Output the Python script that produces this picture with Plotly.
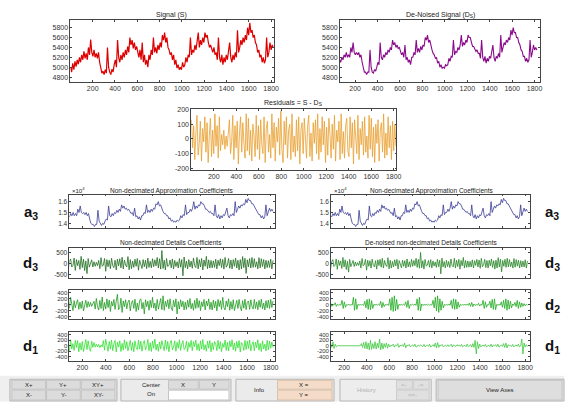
import plotly.graph_objects as go

W, H = 569, 403
X_END = 1820

signal_S = [5000, 4900, 5080, 4950, 5120, 5010, 5150, 5060, 5200, 5100,
            5250, 5150, 5320, 5180, 5280, 5150, 5400, 5250, 5560, 5300,
            5220, 5350, 5200, 5280, 5180, 5300, 5100, 4950, 4880, 4920,
            4850, 4950, 4880, 5400, 5000, 4900, 4850, 4960, 4900, 5050,
            5150, 5000, 5550, 5200, 5100, 5250, 5150, 5300, 5200, 5350,
            5250, 5420, 5300, 5600, 5450, 5550, 5380, 5500, 5350, 5420,
            5300, 5200, 5350, 5150, 5500, 5100, 5250, 5050, 5150, 5000,
            5250, 5150, 5350, 5250, 5600, 5300, 5400, 5280, 5450, 5350,
            5500, 5400, 5650, 5550, 5700, 5500, 5600, 5400, 5350, 5250,
            5300, 5150, 5250, 5050, 5150, 4980, 5050, 4950, 5000, 4950,
            5100, 5000, 5050, 5200, 5100, 5250, 5200, 5600, 5250, 5350,
            5300, 5450, 5350, 5500, 5700, 5400, 5550, 5450, 5600, 5500,
            5700, 5600, 5650, 5500, 5400, 5450, 5350, 5300, 5400, 5250,
            5300, 5150, 5600, 5200, 5100, 5250, 5050, 5200, 5100, 5250,
            5150, 5350, 5500, 5200, 5100, 5250, 5150, 5300, 5200, 5750,
            5300, 5400, 5550, 5450, 5600, 5500, 5650, 5550, 5800, 5650,
            5900, 5700, 5750, 5600, 5650, 5500, 5450, 5300, 5350, 5200,
            5250, 5100, 5200, 5080, 5150, 5600, 5200, 5300, 5500, 5350,
            5450, 5400]

denoised_D = [4950, 4900, 5050, 5000, 5100, 5050, 5150, 5100, 5200, 5150,
              5250, 5200, 5300, 5200, 5250, 5200, 5400, 5300, 5500, 5300,
              5250, 5300, 5250, 5300, 5200, 5250, 5100, 4950, 4900, 4900,
              4850, 4900, 4900, 5350, 5000, 4900, 4880, 4950, 4920, 5000,
              5100, 5050, 5500, 5200, 5150, 5250, 5200, 5300, 5250, 5350,
              5300, 5400, 5350, 5550, 5450, 5500, 5400, 5450, 5380, 5400,
              5320, 5250, 5300, 5200, 5450, 5150, 5200, 5100, 5150, 5050,
              5200, 5200, 5300, 5250, 5550, 5300, 5380, 5300, 5420, 5350,
              5450, 5420, 5600, 5550, 5650, 5500, 5550, 5420, 5350, 5280,
              5250, 5180, 5200, 5080, 5120, 5000, 5050, 4980, 5000, 4980,
              5050, 5030, 5050, 5180, 5120, 5220, 5200, 5550, 5250, 5320,
              5300, 5400, 5350, 5450, 5650, 5420, 5500, 5450, 5550, 5500,
              5650, 5600, 5600, 5500, 5420, 5420, 5350, 5320, 5350, 5280,
              5280, 5180, 5550, 5200, 5120, 5220, 5080, 5180, 5120, 5220,
              5180, 5300, 5450, 5200, 5120, 5220, 5180, 5280, 5200, 5650,
              5300, 5400, 5500, 5450, 5550, 5500, 5600, 5550, 5750, 5650,
              5800, 5700, 5700, 5600, 5600, 5500, 5450, 5350, 5320, 5220,
              5220, 5120, 5180, 5100, 5150, 5550, 5200, 5300, 5450, 5350,
              5400, 5350]

residuals = [130, -60, 90, -140, 40, 160, -110, -30, 120, -150, 70, -20, 150, -90, 110, -160, 20, 140, -120, 60,
             -100, 170, -50, 90, -130, 150, -80, 30, -40, 60, -70, 20, -50, 80, 130, -100, -20, 160, -140, 90,
             -60, 120, -170, 40, 150, -90, 110, -30, -130, 170, -80, 140, -110, 60, -150, 100, 20, -120, 160, -70,
             90, -140, 130, -40, -100, 150, -160, 70, 120, -90, 30, -130, 170, -60, 110, -150, 80, -20, 140, -110,
             190, -70, -160, 120, -40, 150, -130, 60, 100, -140, 170, -90, 20, -120, 130, -80, 150, -170, 60, 110,
             -100, 140, -60, -130, 90, 160, -120, 40, -150, 110, -30, 130, -100, 170, -140, 70, -90, 150, -40, 120,
             -160, 80, -110, 140, 30, -130, 100, -70, 160, -150, 60, -20, 120, -140, 170, -100, 50, -130, 90, 140,
             -80, -120, 150, -60, 110, -170, 130, 30, -100, 160, -140, 70, -40, 120, -110, 150, -90, 20, -130, 160,
             -70, 140, -120, 80, -160, 100, -30, 130, -150, 60, 110, -90, 170, -130, 40, -110, 150, -60, 90, -140,
             120, -80, 100, -50]

approx_a3 = [1.40, 1.39, 1.43, 1.41, 1.44, 1.43, 1.46, 1.44, 1.47, 1.46,
             1.49, 1.47, 1.50, 1.47, 1.49, 1.47, 1.53, 1.50, 1.56, 1.50,
             1.49, 1.50, 1.48, 1.50, 1.47, 1.49, 1.44, 1.40, 1.39, 1.39,
             1.37, 1.39, 1.39, 1.52, 1.42, 1.39, 1.38, 1.40, 1.39, 1.42,
             1.44, 1.43, 1.56, 1.47, 1.46, 1.49, 1.47, 1.50, 1.49, 1.52,
             1.50, 1.53, 1.51, 1.57, 1.54, 1.56, 1.53, 1.54, 1.52, 1.53,
             1.50, 1.49, 1.50, 1.47, 1.54, 1.46, 1.47, 1.44, 1.46, 1.43,
             1.47, 1.47, 1.50, 1.49, 1.57, 1.50, 1.52, 1.50, 1.53, 1.51,
             1.54, 1.53, 1.58, 1.57, 1.60, 1.56, 1.57, 1.53, 1.51, 1.49,
             1.49, 1.47, 1.47, 1.44, 1.45, 1.42, 1.43, 1.41, 1.42, 1.41,
             1.43, 1.42, 1.43, 1.47, 1.45, 1.48, 1.47, 1.57, 1.48, 1.50,
             1.50, 1.53, 1.51, 1.54, 1.60, 1.53, 1.56, 1.54, 1.57, 1.56,
             1.60, 1.58, 1.58, 1.56, 1.53, 1.53, 1.51, 1.50, 1.51, 1.49,
             1.49, 1.47, 1.57, 1.47, 1.45, 1.48, 1.44, 1.47, 1.45, 1.48,
             1.47, 1.50, 1.54, 1.47, 1.45, 1.48, 1.47, 1.49, 1.47, 1.60,
             1.50, 1.53, 1.56, 1.54, 1.57, 1.56, 1.58, 1.57, 1.62, 1.59,
             1.63, 1.61, 1.61, 1.58, 1.58, 1.56, 1.54, 1.51, 1.50, 1.48,
             1.48, 1.45, 1.47, 1.44, 1.46, 1.57, 1.47, 1.50, 1.54, 1.51,
             1.53, 1.51]

d3_left = [150, -220, 260, -120, -60, 240, -200, 180, -300, 120, 220, -150, -80, 260, -310, 190, -90, 150, -260, 340,
           -180, 210, -320, 130, -460, 240, -160, 80, 180, -150, 90, -120, 60, -90, 150, -230, 280, -120, -60, 240,
           -350, 190, -140, 160, -230, 250, -90, -180, 160, -290, 210, -100, 230, -190, 300, -240, 170, -60, -150, 330,
           -280, 190, -230, 120, -170, 210, -120, 240, -300, 160, -60, -220, 190, -140, 160, -230, 260, -170, 110, -190,
           230, -140, 180, -100, 290, -200, 230, -250, 610, -220, 160, -290, 240, -130, -80, 170, -190, 220, -240, 150,
           -130, 90, -200, 240, -160, 190, -560, 310, -180, 120, -240, 190, -150, 120, -210, 260, -90, -180, 290, -240,
           190, -150, 240, -290, 170, -120, 340, -230, 180, -200, 150, -190, 130, -170, 210, -240, 160, -90, 230, -180,
           200, -250, 290, -160, -60, 240, -210, 170, -240, 190, -120, 260, -200, 160, -290, 190, -240, 330, -180, 250,
           -450, 180, -140, 240, -200, 290, -170, 230, -160, 90, -240, 280, -190, 230, -130, 190, -240, 160, -180, 140,
           -170, 210, -240, 150]

d2_left = [160, -80, 120, -180, 40, 150, -130, -60, 190, -110, 250, -70, -190, 140, -100, 60, 170, -150, 90, -120,
           130, -200, 50, 150, -90, 110, -60, 80, -50, 70, 120, -140, 210, -60, -170, 150, -120, 260, -190, 80,
           -140, 200, -90, 160, -220, 110, -40, 180, -150, 120, 350, -160, -90, 220, -250, 130, -60, 170, -130, 90,
           160, -200, 70, 140, -120, 190, -220, 60, -170, 150, 200, -130, 80, -300, 170, -60, 120, -180, 150, -90,
           250, -110, 60, -200, 180, -140, 90, 210, -160, 300, -180, 120, -60, 170, -130, 200, -100, -190, 150, -70,
           200, -300, 110, -140, 170, -60, 120, -170, 90, -150, 160, -80, 210, -130, 50, -180, 150, -120, 220, -90,
           140, -190, 100, -60, 180, -170, 130, -40, 200, -150, 90, -170, 160, -100, 120, -200, 180, -60, 140, -150,
           250, -90, -170, 130, -60, 200, -180, 110, -140, 170, -190, 60, 150, -120, 180, -70, -200, 140, -110, 190,
           -160, 90, 130, -150, 170, -60, -140, 180, -120, 100, -160, 150, -80, 190, -130, 60, -170, 140, -100, 160,
           -120, 180, -90, 130]

d1_left = [210, -90, 180, -230, 60, 170, -200, -40, 150, -190, 220, -120, 80, -170, 200, -60, 190, -220, 110, -150,
           160, -210, 40, 230, -140, 180, -90, -200, 170, -60, 120, -50, 60, -40, 50, -70, 30, -40, 190, -160,
           240, -80, -200, 160, -120, 210, -180, 70, 200, -230, 130, -50, 180, -210, 90, -160, 220, -100, 150, -190,
           60, 200, -170, 120, -220, 180, -60, -140, 210, -120, 170, -200, 80, 190, -150, -30, 230, -180, 110, -210,
           170, -90, 250, -160, 60, -200, 140, -120, 190, -70, -180, 210, -130, 160, -220, 90, 200, -150, -40, 180,
           -200, 130, -90, 220, -170, 60, 190, -140, -100, 170, -210, 120, -60, 200, -180, 150, -30, 210, -160, 80,
           -190, 180, -120, 230, -150, 40, -200, 170, -90, 190, -220, 110, -140, 160, 70, -180, 200, -120, 150, -210,
           90, -60, 210, -170, 130, -190, 180, -40, 220, -150, 100, -200, 160, -80, 190, -230, 120, 60, -170, 200,
           -140, 170, -100, 210, -190, 50, 150, -180, 130, -70, 220, -160, 90, -210, 180, -120, 60, -190, 200, -150,
           170, -90, 140, -60]

d3_right = [130, -190, 220, -100, -50, 200, -170, 150, -250, 100, 190, -130, -70, 220, -260, 160, -80, 130, -220, 290,
            -150, 180, -270, 110, -390, 200, -140, 70, 150, -130, 80, -100, 50, -80, 130, -200, 240, -100, -50, 200,
            -300, 160, -120, 140, -200, 210, -80, -150, 140, -250, 180, -90, 200, -160, 250, -200, 150, -50, -130, 280,
            -240, 160, -200, 100, -150, 180, -100, 200, -250, 140, -50, -190, 160, -120, 140, -200, 220, -150, 90, -160,
            200, -120, 150, -90, 250, -170, 200, -210, 520, -190, 140, -250, 200, -110, -70, 150, -160, 190, -200, 130,
            -110, 80, -170, 200, -140, 160, -470, 260, -150, 100, -200, 160, -130, 100, -180, 220, -80, -150, 250, -200,
            160, -130, 200, -250, 150, -100, 290, -200, 150, -170, 130, -160, 110, -150, 180, -200, 140, -80, 200, -150,
            170, -210, 250, -140, -50, 200, -180, 150, -200, 160, -100, 220, -170, 140, -250, 160, -200, 280, -150, 210,
            -380, 150, -120, 200, -170, 250, -150, 190, -140, 80, -200, 240, -160, 190, -110, 160, -200, 140, -150, 120,
            -150, 180, -200, 130]

d2_right = [250, -200, 30, -20, 80, -60, 20, -15, 60, -50, 10, -10, 70, -50, 20, -10, 5, -5, 150, -120,
            100, -80, 10, -5, 15, -10, 5, -5, 250, -180, 200, -150, 20, -10, 10, -5, 10, -20, 120, -100,
            180, -150, 200, -160, 140, -120, 20, -10, 15, -10, 20, -15, 120, -100, 80, -60, 10, -10, 30, -20,
            200, -180, 250, -220, 300, -200, 180, -150, 20, -10, 15, -10, 20, -15, 100, -80, 150, -120, 10, -5,
            20, -10, 30, -20, 200, -180, 250, -200, 30, -20, 10, -5, 15, -10, 20, -10, 5, -5, 150, -100,
            250, -200, 300, -250, 200, -180, 120, -100, 10, -5, 15, -10, 20, -15, 150, -120, 200, -150, 180, -140,
            100, -80, 20, -10, 10, -5, 15, -10, 20, -15, 60, -50, 80, -60, 30, -20, 10, -10, 50, -40,
            20, -15, 150, -120, 100, -80, 10, -5, 120, -100, 180, -150, 200, -160, 20, -10, 15, -10, 100, -80,
            150, -120, 200, -180, 160, -140, 120, -100, 30, -20, 80, -60, 150, -120, 100, -80, 60, -50, 40, -30,
            20, -10]

d1_right = [200, -150, 120, -180, 150, -100, 80, -120, 100, -60, 150, -100, 60, -40, 0, 0, 0, 0, 0, 0,
            0, 0, 0, 0, 0, 0, 0, 0, 0, 0, 0, 0, 0, 0, 0, 80, -60, 120, -100, 150,
            -120, 100, -150, 200, -130, 80, -100, 150, -120, 90, -80, 250, -150, 100, -120, 80, -60, 100, -90, 60,
            -40, 20, 0, 60, -50, 30, 0, 80, -60, 20, 0, 40, -30, 100, -80, 20, 0, 50, -40, 0,
            30, -20, 60, -50, 0, 20, -20, 40, 0, -30, 50, -40, 0, 30, -20, 60, -50, 0, 40, -30,
            100, -80, 120, -60, 30, 0, 50, -40, 0, 20, -20, 40, -30, 0, 60, -50, 30, 0, -20, 40,
            0, 30, -20, 50, -40, 0, 20, -30, 60, -40, 0, 40, -50, 80, -60, 200, -300, 150, -100, 60,
            -40, 0, 30, -20, 50, -40, 0, 20, -30, 60, -50, 30, 0, 40, -30, 60, -50, 0, 30, -20,
            80, -60, 100, -80, 40, 0, 20, -30, 50, -40, 0, 30, -20, 60, -40, 0, 250, -300, 100, -50,
            40, -30]

x_ticks = [200, 400, 600, 800, 1000, 1200, 1400, 1600, 1800]
x_tick_labels = ["200", "400", "600", "800", "1000", "1200", "1400", "1600", "1800"]


def xs(vals):
    n = len(vals)
    return [1 + (X_END - 1) * i / (n - 1) for i in range(n)]


def fx(p):
    return p / W


def fy(p):
    return 1 - p / H


LX = (70, 277)
RX = (334, 535)
panels = {
    "S": ((71, 276), (17, 80)),
    "D": ((343, 545), (17, 80)),
    "R": ((193, 400), (107, 169)),
    "a3L": (LX, (194, 228)),
    "a3R": (RX, (194, 228)),
    "d3L": (LX, (248, 278)),
    "d2L": (LX, (291, 320)),
    "d1L": (LX, (333, 362)),
    "d3R": (RX, (248, 278)),
    "d2R": (RX, (291, 320)),
    "d1R": (RX, (333, 362)),
}

XL = [90, 1833]
XR = [85, 1845]
yS = [4800, 5000, 5200, 5400, 5600, 5800]
yd = [-400, -200, 0, 200, 400]
series = [
    ("S", signal_S, "#dd0000", 1.2, [4700, 5960], yS, True, [0, 1822], 7),
    ("D", denoised_D, "#8a0a8a", 1.1, [4700, 5960], yS, True, [65, 1850], 7),
    ("R", residuals, "#e8a030", 0.8, [-210, 205], [-200, -100, 0, 100, 200], True, [0, 1825], 7),
    ("a3L", approx_a3, "#3b3b95", 0.8, [1.355, 1.665], [1.4, 1.5, 1.6], False, XL, 6.5),
    ("a3R", approx_a3, "#3b3b95", 0.8, [1.355, 1.665], [1.4, 1.5, 1.6], False, XR, 6.5),
    ("d3L", d3_left, "#1f6f1f", 0.8, [-640, 730], [-500, 0, 500], False, XL, 6.5),
    ("d2L", d2_left, "#1f9a1f", 0.8, [-470, 480], yd, False, XL, 6),
    ("d1L", d1_left, "#33e033", 0.8, [-540, 510], yd, True, XL, 6),
    ("d3R", d3_right, "#268526", 0.8, [-640, 730], [-500, 0, 500], False, XR, 6.5),
    ("d2R", d2_right, "#1faa1f", 0.8, [-470, 480], yd, False, XR, 6),
    ("d1R", d1_right, "#3fc83f", 0.8, [-540, 510], yd, True, XR, 6),
]

FONT = "Liberation Sans, Arial, sans-serif"
fig = go.Figure()
layout = dict(width=W, height=H, margin=dict(l=0, r=0, t=0, b=0, pad=0),
              paper_bgcolor="white", plot_bgcolor="white", showlegend=False,
              font=dict(family=FONT, size=7, color="#333"))

for i, (name, vals, color, lw, yr, yt, showx, xr, yfs) in enumerate(series, start=1):
    (l, r), (t, b) = panels[name]
    xa = "x" if i == 1 else f"x{i}"
    ya = "y" if i == 1 else f"y{i}"
    fig.add_trace(go.Scatter(x=xs(vals), y=vals, mode="lines", line=dict(color=color, width=lw),
                             xaxis=xa, yaxis=ya, hoverinfo="skip"))
    key = "" if i == 1 else str(i)
    layout["xaxis" + key] = dict(domain=[fx(l), fx(r)], range=xr, anchor=ya, tickvals=x_ticks,
                                 ticktext=x_tick_labels,
                                 showticklabels=showx, ticks="inside", ticklen=2, tickcolor="#444",
                                 showline=True, linecolor="#444", linewidth=0.8, mirror="ticks",
                                 showgrid=False, zeroline=False, tickfont=dict(size=7, color="#333"))
    layout["yaxis" + key] = dict(domain=[fy(b), fy(t)], range=yr, anchor=xa, tickvals=yt,
                                 ticktext=[f"{v:g}" for v in yt],
                                 ticks="inside", ticklen=2, tickcolor="#444",
                                 showline=True, linecolor="#444", linewidth=0.8, mirror="ticks",
                                 showgrid=False, zeroline=False, tickfont=dict(size=yfs, color="#333"))

fig.update_layout(**layout)

ann = []


def text(x, y, s, size=7, color="#222", bold=False, xanchor="center"):
    if bold:
        s = "<b>" + s + "</b>"
    ann.append(dict(x=fx(x), y=fy(y), xref="paper", yref="paper", text=s, showarrow=False,
                    font=dict(size=size, color=color, family=FONT), xanchor=xanchor, yanchor="middle",
                    borderpad=0))


text(173, 12, "Signal (S)")
text(444, 12, "De-Noised Signal (D<sub>S</sub>)")
text(296, 101, "Residuals = S - D<sub>S</sub>")
text(173, 190, "Non-decimated Approximation Coefficients", size=6.5)
text(435, 190, "Non-decimated Approximation Coefficients", size=6.5)
text(173, 243, "Non-decimated Details Coefficients", size=6.5)
text(435, 243, "De-noised non-decimated Details Coefficients", size=6.5)
text(72, 189, "\u00d710<sup>4</sup>", size=6, xanchor="left")
text(336, 189, "\u00d710<sup>4</sup>", size=6, xanchor="left")
for lab, yc in [("a<sub>3</sub>", 212), ("d<sub>3</sub>", 264), ("d<sub>2</sub>", 306), ("d<sub>1</sub>", 348)]:
    text(31, yc, lab, size=15, color="#111", bold=True)
    text(557, yc, lab, size=15, color="#111", bold=True)

shapes = []


def rect(x0, y0, x1, y1, fill, line="#b5b5b5"):
    shapes.append(dict(type="rect", xref="paper", yref="paper", x0=fx(x0), x1=fx(x1), y0=fy(y1), y1=fy(y0),
                       fillcolor=fill, line=dict(color=line, width=1), layer="above"))


# toolbar
rect(0, 378, 569, 403, "#efefef", line="#efefef")
rect(10, 381, 118, 403, "#e4e4e4")
for j, (t1, t2) in enumerate([("X+", "X-"), ("Y+", "Y-"), ("XY+", "XY-")]):
    x0 = 12 + j * 35
    rect(x0, 382, x0 + 34, 391, "#dcdcdc", "#c4c4c4")
    rect(x0, 392, x0 + 34, 402, "#dcdcdc", "#c4c4c4")
    text(x0 + 17, 386.5, t1, size=6)
    text(x0 + 17, 397, t2, size=6)
rect(122, 381, 233, 403, "#ebebeb")
text(152, 386.5, "Center", size=6)
text(152, 396, "On", size=6)
rect(170, 382, 200, 391, "#dcdcdc", "#c4c4c4")
rect(201, 382, 231, 391, "#dcdcdc", "#c4c4c4")
text(185, 386.5, "X", size=6)
text(216, 386.5, "Y", size=6)
rect(170, 392, 231, 402, "#ffffff", "#c4c4c4")
rect(238, 381, 337, 403, "#ebebeb")
text(262, 392, "Info", size=6)
rect(280, 382, 335, 391, "#f4dcc8", "#d8c0a8")
rect(280, 392, 335, 402, "#f4dcc8", "#d8c0a8")
text(307, 386.5, "X =", size=6)
text(307, 397, "Y =", size=6)
rect(343, 381, 435, 403, "#ededed")
text(370, 392, "History", size=6, color="#b0b0b0")
rect(400, 382, 416, 391, "#e0e0e0", "#cccccc")
rect(417, 382, 433, 391, "#e0e0e0", "#cccccc")
rect(400, 392, 433, 402, "#e0e0e0", "#cccccc")
text(408, 386.5, "<-", size=6, color="#aaaaaa")
text(425, 386.5, "->", size=6, color="#aaaaaa")
text(416, 397, "<<-", size=6, color="#aaaaaa")
rect(440, 381, 569, 403, "#e4e4e4")
rect(442, 382, 567, 402, "#dedede", "#c4c4c4")
text(504, 392, "View Axes", size=6)

fig.update_layout(annotations=ann, shapes=shapes)
fig.write_html("out.html", config={"displayModeBar": False},
               post_script="document.body.style.margin='0px';document.body.style.overflow='hidden';")
